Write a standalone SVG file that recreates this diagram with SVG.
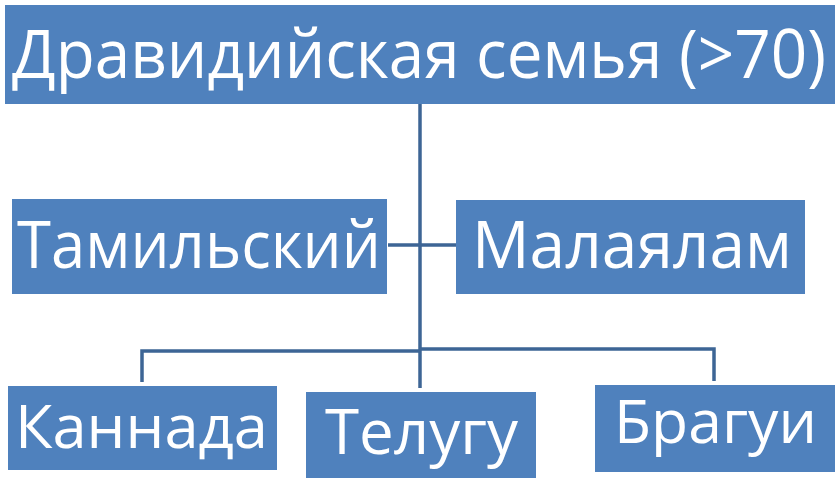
<svg xmlns="http://www.w3.org/2000/svg" width="840" height="483" viewBox="0 0 840 483">
<style>
.box{fill:#4f81bd}
.t{fill:#ffffff;font-family:"Open Sans","Noto Sans","Liberation Sans",sans-serif}
.c{fill:none;stroke:#3d6595;stroke-width:3.5}
</style>
<rect width="840" height="483" fill="#ffffff"/>
<g id="connectors">
<path class="c" d="M420,104 V388"/>
<path class="c" d="M388,245 H456"/>
<path class="c" d="M142,382 V351 H420"/>
<path class="c" d="M420,349 H714 V381"/>
</g>
<g id="node-root">
<rect class="box" x="5" y="5" width="830" height="99"/>
<text class="t" x="12" y="78" font-size="68" textLength="814" lengthAdjust="spacingAndGlyphs">Дравидийская семья (&gt;70)</text>
</g>
<g id="node-tamil">
<rect class="box" x="12" y="199" width="375" height="95"/>
<text class="t" x="17" y="268" font-size="66" textLength="364" lengthAdjust="spacingAndGlyphs">Тамильский</text>
</g>
<g id="node-malayalam">
<rect class="box" x="456" y="200" width="349" height="94"/>
<text class="t" x="472" y="268" font-size="66" textLength="320" lengthAdjust="spacingAndGlyphs">Малаялам</text>
</g>
<g id="node-kannada">
<rect class="box" x="8" y="386" width="269" height="84"/>
<text class="t" x="15" y="448" font-size="61" textLength="253" lengthAdjust="spacingAndGlyphs">Каннада</text>
</g>
<g id="node-telugu">
<rect class="box" x="306" y="392" width="230" height="86"/>
<text class="t" x="325" y="454" font-size="63" textLength="193" lengthAdjust="spacingAndGlyphs">Телугу</text>
</g>
<g id="node-bragui">
<rect class="box" x="595" y="385" width="240" height="87"/>
<text class="t" x="614" y="443" font-size="60" textLength="203" lengthAdjust="spacingAndGlyphs">Брагуи</text>
</g>
</svg>
